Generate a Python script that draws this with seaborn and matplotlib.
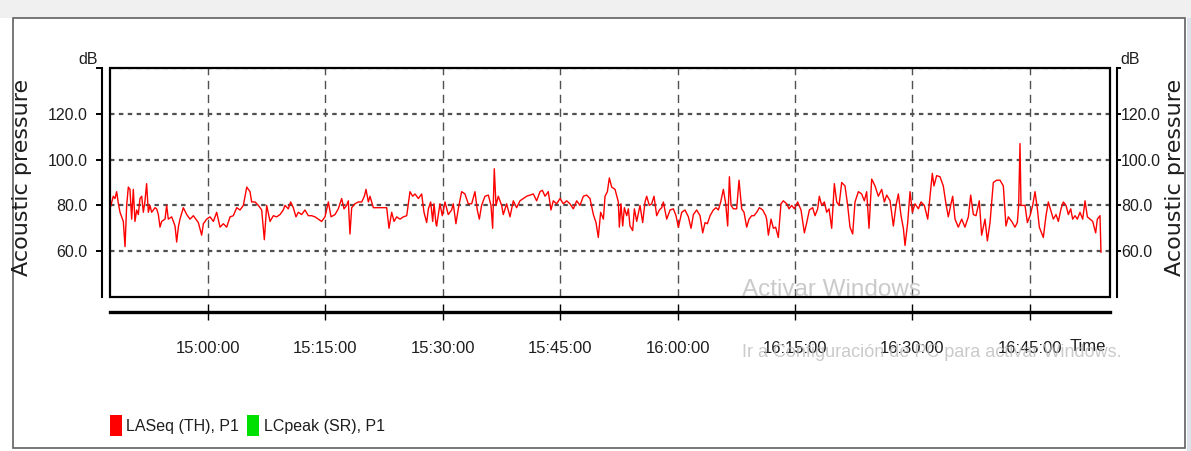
import numpy as np
import pandas as pd
import matplotlib
matplotlib.use("Agg")
import matplotlib.pyplot as plt
from matplotlib.patches import Rectangle, Patch
import seaborn as sns

# LASeq (TH), P1 -- minutes after 15:00:00 and level in dB
minutes = [
    -12.52, -12.10, -11.88, -11.67, -11.46, -11.24, -11.03, -10.82, -10.60, -10.39,
    -10.18, -9.97, -9.75, -9.54, -9.33, -9.11, -8.90, -8.69, -8.47, -8.26,
    -8.05, -7.84, -7.62, -7.41, -7.20, -6.77, -6.56, -6.34, -6.13, -5.92,
    -5.49, -5.28, -5.07, -4.64, -4.21, -4.00, -3.79, -3.58, -3.15, -2.72,
    -2.30, -1.87, -1.23, -0.81, -0.59, -0.17, 0.26, 0.69, 1.11, 1.54,
    1.96, 2.39, 2.82, 3.24, 3.67, 4.09, 4.52, 4.95, 5.37, 5.58,
    6.01, 6.44, 6.86, 7.20, 7.50, 7.93,
    8.35, 8.77, 9.20, 9.62, 9.84, 10.26, 10.56, 10.90, 11.24, 11.54,
    11.97, 12.39, 12.82, 13.25, 13.67, 14.10, 14.52, 14.95, 15.38, 15.72,
    16.23, 16.65, 17.08, 17.38, 17.72, 17.93, 18.14, 18.36, 18.78, 19.21,
    19.64, 19.98, 20.19, 20.49, 20.70, 21.13, 21.98, 22.83, 23.13, 23.47,
    23.77, 24.11, 24.53, 24.96, 25.39, 25.60, 25.81, 26.15, 26.45, 26.88,
    27.30, 27.60, 27.94, 28.16, 28.45, 28.71, 28.88, 29.13,
    29.21, 29.64, 29.94, 30.28, 30.70, 31.13, 31.34, 31.68, 31.98, 32.41,
    32.83, 33.26, 33.69, 34.11, 34.41, 34.67, 34.96, 35.39, 35.82, 36.16,
    36.37, 36.58, 36.80, 37.09, 37.52, 37.73, 38.16, 38.59, 39.01, 39.44,
    39.86, 40.29, 40.72, 41.14, 41.57, 41.99, 42.42, 42.72, 43.06, 43.48,
    43.82, 44.12, 44.55, 44.98, 45.40, 45.83, 46.25, 46.68, 47.11, 47.53,
    47.96, 48.38, 48.81, 49.24, 49.58, 49.87, 50.17,
    50.52, 50.73, 51.03, 51.28, 51.58, 52.01, 52.43, 52.56, 52.77, 52.99,
    53.20, 53.50, 53.71, 53.92, 54.26, 54.48, 54.78, 55.20, 55.54, 55.84,
    56.05, 56.39, 56.69, 56.99, 57.33, 57.67, 57.97, 58.18, 58.61, 59.04,
    59.46, 59.80, 60.10, 60.53, 60.95, 61.38, 61.72, 62.02, 62.44, 62.87,
    63.21, 63.51, 63.81, 64.15, 64.57, 64.91, 65.21, 65.51, 65.85, 66.15,
    66.40, 66.62, 66.83, 67.13, 67.55, 67.85, 68.19, 68.49, 68.83, 69.13,
    69.47, 69.77, 70.11, 70.45, 70.88, 71.26,
    71.38, 71.60, 71.94, 72.24, 72.53, 72.87, 73.21, 73.51, 73.94, 74.24,
    74.58, 74.92, 75.34, 75.77, 76.20, 76.50, 76.84, 77.26, 77.56, 77.90,
    78.11, 78.41, 78.75, 79.05, 79.35, 79.69, 80.03, 80.33, 80.63, 80.97,
    81.39, 81.73, 82.03, 82.37, 82.67, 83.10, 83.52, 83.86, 84.16, 84.46,
    84.80, 85.23, 85.65, 86.08, 86.42, 86.72, 87.15, 87.57, 87.91, 88.21,
    88.55, 88.85, 89.06, 89.40, 89.70, 90.00, 90.34, 90.77, 91.11, 91.53,
    91.96, 92.25, 92.55,
    92.76, 93.10, 93.53, 93.95, 94.29, 94.59, 94.89, 95.15, 95.45, 95.87,
    96.30, 96.72, 97.15, 97.45, 97.79, 98.13, 98.55, 98.85, 99.28, 99.58,
    99.92, 100.34, 100.77, 101.20, 101.62, 101.96, 102.26, 102.69, 103.11, 103.41,
    103.58, 103.75, 103.88, 104.39, 104.69, 105.03, 105.37, 105.67, 105.97, 106.22,
    106.73, 107.07, 107.37, 107.67, 108.01, 108.35, 108.65, 108.99, 109.29, 109.63,
    109.93, 110.23, 110.48, 110.78, 111.08, 111.42, 111.76, 112.06, 112.36, 112.70,
    113.04, 113.42, 113.63, 113.97, 114.10,
]
laseq_db = [
    78.5, 84, 83, 86, 81, 77, 75, 73, 62, 80,
    88, 87, 74, 87, 73, 78, 76, 83, 84, 77,
    82, 89.5, 77, 80, 77, 79, 78.5, 76, 70.5, 73,
    74, 80, 74, 75, 71, 64, 70.5, 74, 79, 76,
    74, 75.5, 72.5, 67, 72, 74, 75, 73, 77, 70.5,
    72, 70.5, 75, 75.5, 79, 78, 80, 88, 86, 81.5,
    81.5, 80, 78, 65, 80, 73,
    75.5, 75, 76, 78, 80, 78.5, 81.5, 79, 75, 77,
    76, 78, 75.5, 75.5, 75, 74, 73, 75, 81.5, 75,
    76, 78.5, 83, 78.5, 80, 82, 67.5, 79, 80.7, 81.5,
    81.5, 84, 87, 81.5, 84, 79, 79, 79, 70, 77,
    73, 75, 74, 75, 75.5, 80.7, 86, 84, 85, 83,
    85, 77, 72.5, 78.5, 81.5, 73, 80.7, 72,
    71, 80.7, 75.5, 81.5, 76, 78, 80.7, 72, 78.5, 86,
    85, 80.7, 80.7, 86, 78, 74, 80, 84, 84.5, 80,
    70, 96, 80, 84, 80, 76, 80.7, 75, 82, 79,
    82, 83, 84, 84.5, 85, 82, 86, 86.6, 84, 86,
    78, 82, 80.7, 83, 80.7, 82, 80.7, 78.5, 82, 80,
    84, 84.5, 83, 76, 72.5, 66, 77,
    74, 84, 86, 92, 88, 87, 81.5, 70.5, 80.7, 71,
    79, 75.5, 78.5, 71, 69, 78.5, 73, 80, 72.5, 81.5,
    84, 80, 80.7, 84, 75.5, 78, 79, 81.5, 74, 78,
    78.5, 75.5, 70.5, 77, 78, 75, 70, 76, 78, 75.5,
    68, 72.5, 72, 75.5, 78, 79, 78, 81.5, 87, 80.7,
    71, 92.5, 80, 78.5, 78.5, 91, 78.5, 77, 70.5, 74,
    75.5, 75.5, 77, 79, 78, 75.5,
    74, 67, 74, 70, 70.5, 66, 80.7, 82, 80.7, 78.5,
    80, 78.5, 81.5, 78, 68, 72.5, 78, 79, 75.5, 78.5,
    84, 80, 81.5, 77, 78.5, 70, 89.5, 81.5, 80, 90,
    88.5, 80, 70.5, 67.5, 81.5, 86, 85, 82, 86, 70,
    91.5, 88.5, 84, 87, 81.5, 84.5, 82, 71, 80, 85,
    75.5, 70, 62.5, 72.5, 86, 77, 80.7, 78.5, 81.5, 80,
    74, 84, 94,
    88.5, 93, 92.5, 88.5, 80.7, 75, 80, 84, 74, 70.5,
    74, 70.5, 75, 84.5, 76, 75.5, 82, 67, 74, 64.5,
    72.5, 90, 91, 91, 88.5, 71, 75, 73, 70.5, 72.5,
    80, 107, 80, 80, 72.5, 75.5, 80, 86, 78.5, 70.5,
    66, 75.5, 81.5, 78, 74, 76, 73, 78.5, 81.5, 80,
    76, 78.5, 74, 75.5, 74, 77, 74, 82, 75, 74,
    73, 68, 74, 75.5, 59.5,
]

tick_times = ["15:00:00", "15:15:00", "15:30:00", "15:45:00",
              "16:00:00", "16:15:00", "16:30:00", "16:45:00"]
y_ticks = [60, 80, 100, 120, 140]
y_labels = ["60.0", "80.0", "100.0", "120.0", ""]
legend_names = ["LASeq (TH), P1", "LCpeak (SR), P1"]
legend_colors = ["#ff0000", "#00e000"]

t0 = pd.Timestamp("2000-01-01 15:00:00")
df = pd.DataFrame({"time": t0 + pd.to_timedelta(minutes, unit="min"),
                   "db": laseq_db})
xticks = [pd.Timestamp("2000-01-01 " + t) for t in tick_times]

sns.set_theme(style="white")
plt.rcParams["font.family"] = ["Liberation Sans", "DejaVu Sans"]
ink = "#1e1e1e"

fig = plt.figure(figsize=(11.91, 4.51), dpi=100)
fig.patch.set_facecolor("white")

# window chrome: grey title strip and frame
fig.add_artist(Rectangle((0, 0.960), 1, 0.04, transform=fig.transFigure,
                         facecolor="#f0f0f0", edgecolor="none"))
fig.add_artist(Rectangle((0.0109, 0.0067), 0.9841, 0.9533, transform=fig.transFigure,
                         fill=False, edgecolor="#606060", lw=1.2))
fig.add_artist(Rectangle((0.997, 0), 0.003, 0.96, transform=fig.transFigure,
                         facecolor="#dde3ea", edgecolor="none"))

ax = fig.add_axes([110 / 1191, 154 / 451, 1000 / 1191, 229 / 451])
sns.lineplot(data=df, x="time", y="db", color="#ff0000", lw=1, ax=ax)

ax.set_xlim(t0 + pd.Timedelta(minutes=-12.52), t0 + pd.Timedelta(minutes=115.25))
ax.set_ylim(40, 140)
ax.set_xticks(xticks)
ax.set_xticklabels(tick_times)
ax.set_yticks(y_ticks)
ax.set_yticklabels(y_labels)
ax.set_ylabel("")
ax.set_xlabel("Time", fontsize=12, color=ink, va="center")
ax.xaxis.set_label_coords(0.978, -0.215)

ax.set_axisbelow(True)
ax.xaxis.grid(True, color="#505050", ls=(0, (6, 4)), lw=1)
ax.yaxis.grid(True, color="#505050", ls=(0, (2, 2)), lw=1.6)

for s in ["top", "right"]:
    ax.spines[s].set_visible(False)
ax.spines["left"].set_position(("outward", 6))
ax.spines["left"].set_color("black")
ax.spines["left"].set_linewidth(1.5)
ax.spines["bottom"].set_position(("outward", 11))
ax.spines["bottom"].set_color("black")
ax.spines["bottom"].set_linewidth(2.4)
ax.add_patch(Rectangle((0, 0), 1, 1, transform=ax.transAxes, fill=False,
                       edgecolor="black", lw=1.6, clip_on=False, zorder=3))

ax.tick_params(axis="y", left=True, direction="out", length=4, width=1.4,
               color="black", pad=6, labelsize=11.5, labelcolor=ink)
ax.tick_params(axis="x", bottom=True, direction="inout", length=11, width=1,
               color="black", pad=15, labelsize=12, labelcolor=ink)

# right-hand axis
ax2 = ax.twinx()
ax2.set_ylim(40, 140)
ax2.set_yticks(y_ticks)
ax2.set_yticklabels(y_labels)
for s in ["top", "left", "bottom"]:
    ax2.spines[s].set_visible(False)
ax2.spines["right"].set_position(("outward", 5))
ax2.spines["right"].set_color("black")
ax2.spines["right"].set_linewidth(1.5)
ax2.tick_params(axis="y", right=True, direction="out", length=3, width=1.4,
                color="black", pad=0, labelsize=11.5, labelcolor=ink)

# unit labels at the top of both scales
ax.annotate("dB", xy=(0, 140), xycoords=("axes fraction", "data"),
            xytext=(-12, 1), textcoords="offset pixels", ha="right",
            va="bottom", fontsize=11.5, color=ink, annotation_clip=False)
ax.annotate("dB", xy=(1, 140), xycoords=("axes fraction", "data"),
            xytext=(10, 1), textcoords="offset pixels", ha="left",
            va="bottom", fontsize=11.5, color=ink, annotation_clip=False)

for xpos in [0.0185, 0.9866]:
    fig.text(xpos, 0.6075, "Acoustic pressure", rotation=90, ha="center",
             va="center", fontsize=16, color=ink, family="DejaVu Sans")

# Windows activation watermark
fig.text(742 / 1191, 0.357, "Activar Windows", fontsize=17.5, color="#bdbdbd",
         alpha=0.8, ha="left", va="center")
fig.text(742 / 1191, 0.2195, "Ir a Configuración de PC para activar Windows.",
         fontsize=13, color="#bdbdbd", alpha=0.8, ha="left", va="center")

handles = [Patch(facecolor=c, edgecolor="none") for c in legend_colors]
fig.legend(handles, legend_names, loc="lower left", bbox_to_anchor=(0.084, 0.012),
           ncol=2, frameon=False, fontsize=11.5, handlelength=0.75,
           handleheight=1.6, handletextpad=0.3, columnspacing=0.5,
           borderpad=0.1, labelcolor=ink)

fig.savefig("out.png", dpi=100)
